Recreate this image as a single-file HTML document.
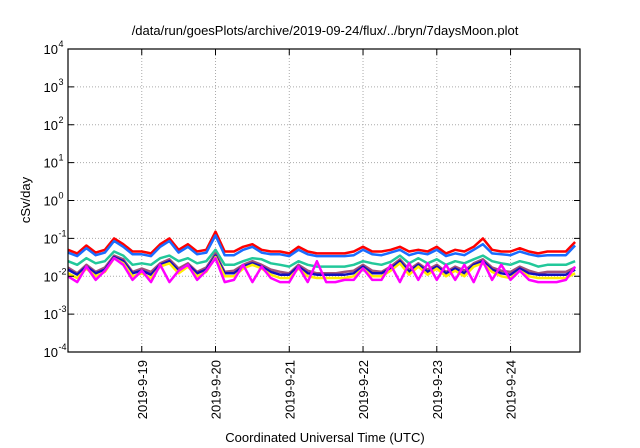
<!DOCTYPE html>
<html><head><meta charset="utf-8"><style>
body{margin:0;background:#fff;}
svg{display:block;font-family:"Liberation Sans",sans-serif;}
</style></head><body>
<svg id="chart" width="640" height="448">
<text x="325" y="35" font-size="13" text-anchor="middle">/data/run/goesPlots/archive/2019-09-24/flux/../bryn/7daysMoon.plot</text>
<text transform="translate(30,200) rotate(-90)" font-size="13" text-anchor="middle">cSv/day</text>
<text x="325" y="442" font-size="13" text-anchor="middle">Coordinated Universal Time (UTC)</text>
<g id="grid"></g><g id="series"></g><g id="axes"></g>
</svg>
<script>
const yExponents=[-4,-3,-2,-1,0,1,2,3,4];
const xTickLabels=["2019-9-19","2019-9-20","2019-9-21","2019-9-22","2019-9-23","2019-9-24"];
const xTickHours=[24,48,72,96,120,144];
const hours=[0,3,6,9,12,15,18,21,24,27,30,33,36,39,42,45,48,51,54,57,60,63,66,69,72,75,78,81,84,87,90,93,96,99,102,105,108,111,114,117,120,123,126,129,132,135,138,141,144,147,150,153,156,159,162,165];
const red=[0.05,0.04,0.065,0.042,0.05,0.1,0.07,0.045,0.045,0.04,0.07,0.1,0.05,0.07,0.045,0.05,0.15,0.045,0.045,0.06,0.07,0.05,0.045,0.045,0.04,0.06,0.045,0.04,0.04,0.04,0.04,0.045,0.06,0.045,0.045,0.05,0.06,0.045,0.05,0.045,0.06,0.04,0.05,0.045,0.06,0.1,0.05,0.045,0.045,0.055,0.045,0.04,0.045,0.045,0.045,0.08];
const blue=[0.042,0.034,0.055,0.036,0.042,0.085,0.06,0.038,0.038,0.034,0.06,0.085,0.042,0.06,0.038,0.042,0.12,0.036,0.036,0.05,0.06,0.042,0.038,0.038,0.034,0.05,0.038,0.034,0.034,0.034,0.034,0.036,0.05,0.038,0.036,0.042,0.05,0.036,0.042,0.038,0.05,0.034,0.04,0.036,0.05,0.07,0.04,0.038,0.036,0.045,0.038,0.034,0.036,0.036,0.036,0.065];
const teal=[0.025,0.02,0.03,0.022,0.025,0.045,0.035,0.02,0.022,0.02,0.03,0.035,0.025,0.03,0.022,0.025,0.05,0.02,0.02,0.025,0.03,0.028,0.022,0.02,0.018,0.025,0.02,0.018,0.018,0.018,0.018,0.02,0.025,0.022,0.02,0.024,0.035,0.022,0.03,0.022,0.028,0.02,0.025,0.022,0.028,0.035,0.025,0.022,0.02,0.025,0.022,0.018,0.02,0.02,0.02,0.025];
const mauve=[0.017,0.012,0.02,0.013,0.017,0.035,0.028,0.013,0.016,0.013,0.022,0.028,0.016,0.022,0.013,0.017,0.04,0.013,0.014,0.02,0.025,0.02,0.015,0.013,0.012,0.02,0.014,0.012,0.012,0.012,0.013,0.014,0.02,0.014,0.013,0.018,0.028,0.015,0.022,0.015,0.02,0.013,0.018,0.014,0.022,0.028,0.017,0.014,0.013,0.018,0.014,0.012,0.013,0.013,0.013,0.017];
const navy=[0.015,0.011,0.018,0.012,0.015,0.032,0.025,0.012,0.014,0.011,0.02,0.025,0.014,0.02,0.012,0.015,0.035,0.012,0.012,0.018,0.022,0.018,0.013,0.011,0.011,0.018,0.012,0.011,0.011,0.011,0.011,0.012,0.018,0.012,0.012,0.016,0.025,0.013,0.02,0.013,0.018,0.012,0.016,0.012,0.02,0.025,0.015,0.012,0.011,0.016,0.012,0.011,0.011,0.011,0.011,0.015];
const yellow=[0.012,0.009,0.016,0.01,0.013,0.03,0.022,0.01,0.012,0.009,0.018,0.022,0.012,0.018,0.01,0.013,0.032,0.01,0.01,0.016,0.02,0.016,0.011,0.009,0.009,0.016,0.01,0.009,0.009,0.009,0.009,0.01,0.016,0.01,0.01,0.014,0.022,0.011,0.018,0.011,0.016,0.01,0.014,0.01,0.018,0.022,0.013,0.01,0.009,0.014,0.01,0.009,0.009,0.009,0.009,0.012];
const magenta=[0.01,0.007,0.018,0.008,0.014,0.03,0.02,0.008,0.014,0.007,0.02,0.007,0.014,0.02,0.008,0.014,0.03,0.007,0.008,0.02,0.007,0.018,0.009,0.007,0.007,0.018,0.007,0.025,0.007,0.007,0.008,0.008,0.016,0.008,0.008,0.02,0.007,0.022,0.008,0.022,0.008,0.02,0.008,0.02,0.007,0.025,0.008,0.02,0.008,0.014,0.008,0.007,0.007,0.007,0.008,0.018];
const seriesList=[["red",red,"#ff0000"],["blue",blue,"#1a6cff"],["teal",teal,"#22c89a"],["mauve",mauve,"#a0507a"],["navy",navy,"#1010c0"],["yellow",yellow,"#ffee00"],["magenta",magenta,"#ff00ff"]];
const L=68,R=580,T=49,B=352,H0=0,H1=166.6;
const xs=h=>L+(h-H0)/(H1-H0)*(R-L);
const ys=v=>B-(Math.log10(v)+4)/8*(B-T);
const NS="http://www.w3.org/2000/svg";
function mk(tag,attrs,parent){const e=document.createElementNS(NS,tag);for(const k in attrs)e.setAttribute(k,attrs[k]);parent.appendChild(e);return e;}
const grid=document.getElementById('grid'),axes=document.getElementById('axes'),ser=document.getElementById('series');
yExponents.forEach(p=>{
  const y=B-(p+4)/8*(B-T);
  if(p>-4&&p<4){const g=mk('line',{x1:L,x2:R,y1:y,y2:y,stroke:'#aaa','stroke-dasharray':'1,2','stroke-width':1},grid);
  
  }
  mk('line',{x1:L,x2:L+6,y1:y,y2:y,stroke:'#000'},axes);
  mk('line',{x1:R-6,x2:R,y1:y,y2:y,stroke:'#000'},axes);
  const t=mk('text',{x:58,y:y+5,'font-size':13,'text-anchor':'end'},axes);
  t.textContent='10';
  
  
  const s=mk('text',{x:58.5,y:y-2,'font-size':9},axes);
  s.textContent=String(p);
  
  
});
xTickHours.forEach((h,i)=>{
  const x=xs(h);
  const g=mk('line',{x1:x,x2:x,y1:T,y2:B,stroke:'#aaa','stroke-dasharray':'1,2'},grid);
  
  
  mk('line',{x1:x,x2:x,y1:B-6,y2:B,stroke:'#000'},axes);
  mk('line',{x1:x,x2:x,y1:T,y2:T+6,stroke:'#000'},axes);
  const t=mk('text',{transform:`translate(${x+5},${B+8}) rotate(-90)`,'font-size':13,'text-anchor':'end'},axes);
  t.textContent=xTickLabels[i];
  
  
});
const frame=mk('rect',{x:L,y:T,width:R-L,height:B-T,fill:'none',stroke:'#000','stroke-width':1.2},axes);


seriesList.forEach(([name,vals,col])=>{
  const d=vals.map((v,i)=>(i?'L':'M')+xs(hours[i]).toFixed(1)+','+ys(v).toFixed(1)).join(' ');
  const p=mk('path',{d:d,fill:'none',stroke:col,'stroke-width':2.5,'stroke-linejoin':'round'},ser);
  
  
});
</script>
</body></html>
